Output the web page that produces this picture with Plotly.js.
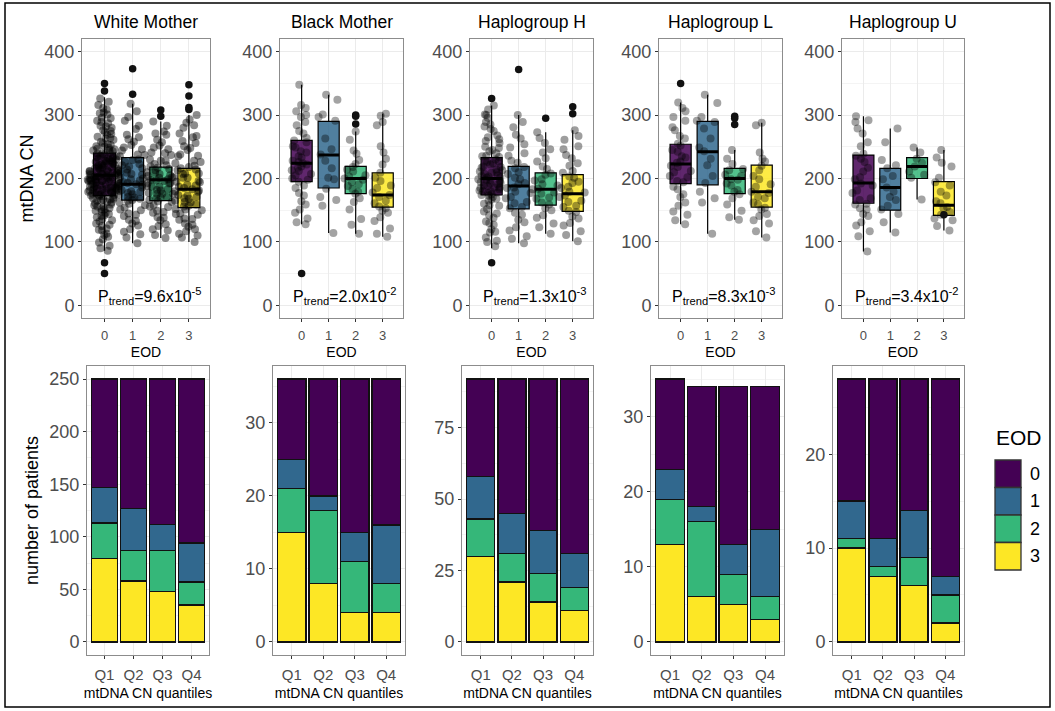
<!DOCTYPE html>
<html><head><meta charset="utf-8">
<script src="https://cdn.plot.ly/plotly-3.0.1.min.js"></script>
<style>html,body{margin:0;padding:0;background:#fff}#chart{width:1055px;height:711px}</style>
</head><body><div id="chart"></div>
<script>
// ---------------- DATA ----------------
const eodLevels = ['0', '1', '2', '3'];
const eodColors = ['#440154', '#31688E', '#35B779', '#FDE725'];
const panelTitles = ['White Mother', 'Black Mother', 'Haplogroup H', 'Haplogroup L', 'Haplogroup U'];
const pTrendMant = ['9.6', '2.0', '1.3', '8.3', '3.4'];
const pTrendExp = ['-5', '-2', '-3', '-3', '-2'];
const quantiles = ['Q1', 'Q2', 'Q3', 'Q4'];

// box statistics [panel][EOD 0..3]
const boxQ1  = [[173,166,165,154],[195,185,176,155],[174,152,158,148],[192,190,176,155],[161,150,200,142]];
const boxMed = [[205,191,198,183],[224,237,200,174],[200,188,183,176],[223,242,200,179],[193,186,219,158]];
const boxQ3  = [[240,233,218,216],[260,290,219,209],[233,219,209,206],[254,290,216,221],[237,216,233,195]];
const boxLo  = [[86,98,106,100],[128,114,113,108],[90,98,113,101],[128,113,135,107],[85,115,167,118]];
const boxHi  = [[328,318,290,300],[348,332,274,302],[315,300,273,276],[320,332,245,288],[298,279,249,245]];

// mtDNA CN points per panel / EOD group
const whitePts = [
  [326,321,316,309,304,301,296,291,287,283,280,276,273,270,266,264,261,258,256,253,250,248,247,244,243,241,239,238,236,234,233,231,230,229,227,226,224,223,222,221,219,218,216,215,214,213,211,210,209,208,207,206,205,205,204,203,201,200,199,198,198,196,195,194,193,192,190,189,188,187,186,185,183,182,181,180,179,178,176,175,174,173,172,170,168,167,165,163,161,158,156,153,151,148,146,142,139,136,132,129,125,121,118,113,108,104,99,94,90,86,212,202,197,184,177,228,191,208,
   239,235,232,231,227,224,221,220,216,213,211,209,207,204,203,201,199,198,196,194,192,191,188,186,184,182,180,178,177,174,172,169,167,165,162,159,155,152,149,144,141,134,127,119,111,251,254,263,269,275,282,289,295,303,311,245,246,217,196,186],
  [318,306,297,291,283,278,269,265,258,253,246,244,237,235,230,229,223,221,216,214,209,207,202,200,197,194,191,190,186,184,180,179,175,174,170,168,166,162,160,154,151,145,141,133,129,120,116,107,98,
   262,249,238,226,219,212,206,199,193,188,182,177,171,165,158,150,143,135,126,112],
  [290,283,274,269,261,257,249,246,240,237,230,228,223,221,217,215,210,209,205,204,201,199,198,196,193,192,188,187,183,181,177,176,171,169,166,164,158,156,149,146,138,134,125,120,111,106,
   271,252,241,228,219,213,207,202,197,193,187,182,176,170,163,155,147,139,128,118],
  [300,293,284,280,271,267,259,256,248,245,238,235,228,226,220,218,214,213,208,207,202,201,196,195,190,189,185,183,180,179,174,173,169,168,163,162,157,156,151,150,145,143,137,135,129,127,120,117,110,107,100,
   288,265,251,236,224,216,208,201,194,187,181,176,171,165,159,152,144,136,124,113]
];
const blackPts = [
  [348,316,311,306,300,297,289,284,275,271,264,260,257,251,249,243,241,235,233,228,226,224,222,219,217,213,212,207,205,200,198,195,189,185,177,173,164,159,151,146,137,131,128],
  [332,324,301,297,291,263,246,238,228,216,201,199,184,171,166,157,114],
  [274,261,244,239,229,223,218,214,211,205,203,200,198,194,191,188,183,179,176,169,163,151,136,127,113],
  [302,299,289,284,251,241,231,222,209,201,196,189,185,178,174,171,165,161,156,153,149,146,139,133,121,113,108]
];
const hapHPts = [
  [315,309,301,296,289,285,278,275,268,265,259,256,250,248,243,240,236,234,230,228,224,222,219,217,213,211,209,207,205,204,201,199,197,196,193,191,189,188,185,183,181,180,177,175,173,171,167,165,160,157,152,148,142,138,132,127,120,115,107,100,93,226,214,202,194,186,178,
   300,282,262,245,235,227,218,210,203,198,192,186,180,174,168,158,145,130,116,102],
  [300,289,281,269,263,254,249,240,236,228,225,218,216,210,207,201,199,193,191,186,185,179,177,171,169,163,161,155,153,146,143,135,131,123,118,109,105,98],
  [273,264,256,246,241,232,227,219,215,208,206,199,197,191,189,184,183,178,176,170,168,162,159,153,150,142,138,129,123,113],
  [276,267,261,251,246,237,232,224,220,212,209,203,201,195,193,187,185,179,178,173,171,165,163,157,155,149,147,140,137,130,126,117,111,101]
];
const hapLPts = [
  [320,311,306,297,291,281,276,267,263,255,252,245,242,235,233,227,225,220,218,212,210,204,202,196,194,187,183,175,171,162,157,148,143,134,128],
  [332,319,297,291,289,279,263,249,243,231,221,204,193,179,169,162,113],
  [245,231,223,215,213,206,204,199,198,192,189,182,179,175,169,159,149,139,135],
  [288,284,241,231,227,220,213,204,199,191,187,179,177,171,169,162,159,154,151,144,141,134,129,117,107]
];
const hapUPts = [
  [298,292,289,279,271,257,251,239,236,231,226,217,211,202,199,192,189,181,177,169,166,160,159,153,151,144,141,131,126,117,109,85],
  [279,257,229,221,216,204,199,186,179,171,166,157,151,144,131,115],
  [249,241,231,225,219,211,206,201,167],
  [245,233,225,219,201,194,189,179,173,164,161,155,153,147,143,137,134,125,118]
];
// outliers (solid dots) per panel / EOD group
const whiteOut = [[350,338,67,50],[373,333],[308,298],[348,330,312,309]];
const blackOut = [[50],[],[300,298,286],[]];
const hapHOut  = [[326,67],[372],[295],[313,302]];
const hapLOut  = [[350],[],[298,295,285],[]];
const hapUOut  = [[],[],[],[143]];

// number of patients per quantile, stacked segments [EOD 0..3][Q1..Q4]
const whiteCounts = [[103,123,138,156],[34,40,25,37],[34,29,39,22],[79,58,48,35]];
const blackCounts = [[11,16,21,20],[4,2,4,8],[6,10,7,4],[15,8,4,4]];
const hapHCounts  = [[34,47,53,61],[15,14,15,12],[13,10,10,8],[30,21,14,11]];
const hapLCounts  = [[12,16,21,19],[4,2,4,9],[6,10,4,3],[13,6,5,3]];
const hapUCounts  = [[13,17,14,21],[4,3,5,2],[1,1,3,3],[10,7,6,2]];

// --------------- LAYOUT CONFIG ---------------
const W = 1055, H = 711;
const FONT = 'Liberation Sans, Arial, Helvetica, sans-serif';
const allPts = [whitePts, blackPts, hapHPts, hapLPts, hapUPts];
const allOut = [whiteOut, blackOut, hapHOut, hapLOut, hapUOut];
const allCounts = [whiteCounts, blackCounts, hapHCounts, hapLCounts, hapUCounts];
const topX = [[82,210],[280,403],[470,593],[659,782],[842,964]];
const botX = [[87,209],[273,405],[462,593],[651,784],[833,964]];
const topY = [39,318], botY = [366,655];
const barRanges = [[-12.5,262.5],[-1.8,37.8],[-4.6,96.6],[-1.75,36.75],[-1.4,29.4]];
const barDtick = [50,10,25,10,10];
const ptSpread = [1.2, 0.85, 1.0, 0.85, 0.85];
const ptAlpha = [0.45, 0.36, 0.38, 0.36, 0.36];

function rgba(hex, a){
  const n = parseInt(hex.slice(1),16);
  return 'rgba(' + (n>>16) + ',' + ((n>>8)&255) + ',' + (n&255) + ',' + a + ')';
}
const fx = px => px / W;
const fy = py => 1 - py / H;

const traces = [];
const layout = {
  width: W, height: H,
  margin: {l:0, r:0, t:0, b:0},
  paper_bgcolor: '#fff', plot_bgcolor: '#fff',
  showlegend: false,
  barmode: 'stack', bargap: 0.1,
  boxmode: 'overlay',
  font: {family: FONT, color: '#000'},
  annotations: [], shapes: []
};

const axisCommon = {
  showline: true, mirror: true, linecolor: '#8c8c8c', linewidth: 1,
  ticks: 'outside', ticklen: 3, tickcolor: '#333', tickwidth: 1,
  showgrid: true, gridcolor: '#ebebeb', gridwidth: 1, zeroline: false, fixedrange: true
};

for (let p = 0; p < 5; p++) {
  const tn = p + 1, bn = p + 6;
  const txa = tn === 1 ? 'x' : 'x' + tn, tya = tn === 1 ? 'y' : 'y' + tn;
  const bxa = 'x' + bn, bya = 'y' + bn;

  // ---- top row: boxplots ----
  for (let k = 0; k < 4; k++) {
    const lvl = eodLevels[k];
    traces.push({
      type: 'box', xaxis: txa, yaxis: tya, x: [lvl],
      q1: [boxQ1[p][k]], median: [boxMed[p][k]], q3: [boxQ3[p][k]],
      lowerfence: [boxLo[p][k]], upperfence: [boxHi[p][k]],
      fillcolor: rgba(eodColors[k], 0.85), line: {color: '#000', width: 1.2},
      whiskerwidth: 0, width: 0.78, hoverinfo: 'skip'
    });
    const pts = allPts[p][k];
    traces.push({
      type: 'box', xaxis: txa, yaxis: tya, x: pts.map(() => lvl), y: pts,
      boxpoints: 'all', jitter: 1, pointpos: 0,
      fillcolor: 'rgba(0,0,0,0)', line: {color: 'rgba(0,0,0,0)', width: 0},
      marker: {color: 'rgba(0,0,0,' + ptAlpha[p] + ')', size: 8}, width: ptSpread[p], whiskerwidth: 0, hoverinfo: 'y'
    });
    traces.push({
      type: 'box', xaxis: txa, yaxis: tya, x: [lvl],
      q1: [boxMed[p][k]], median: [boxMed[p][k]], q3: [boxMed[p][k]],
      lowerfence: [boxMed[p][k]], upperfence: [boxMed[p][k]],
      fillcolor: 'rgba(0,0,0,0)', line: {color: '#000', width: 3},
      whiskerwidth: 0, width: 0.78, hoverinfo: 'skip'
    });
    const outs = allOut[p][k];
    if (outs.length) traces.push({
      type: 'scatter', mode: 'markers', xaxis: txa, yaxis: tya,
      x: outs.map(() => lvl), y: outs,
      marker: {color: '#111', size: 7.5}, hoverinfo: 'y'
    });
  }

  // ---- bottom row: stacked bars (EOD 3 at bottom) ----
  for (let k = 3; k >= 0; k--) {
    traces.push({
      type: 'bar', xaxis: bxa, yaxis: bya, x: quantiles, y: allCounts[p][k],
      name: eodLevels[k], marker: {color: eodColors[k], line: {color: '#111', width: 1.3}},
      hoverinfo: 'y'
    });
  }

  // axes
  const tx = Object.assign({}, axisCommon, {
    domain: [fx(topX[p][0]), fx(topX[p][1])], anchor: tya,
    type: 'category', categoryorder: 'array', categoryarray: eodLevels, range: [-0.8, 3.75],
    tickfont: {size: 13, color: '#4d4d4d'}, ticklabelstandoff: 2,
    title: {text: 'EOD', font: {size: 14, color: '#000'}, standoff: 5}
  });
  const ty = Object.assign({}, axisCommon, {
    domain: [fy(topY[1]), fy(topY[0])], anchor: txa,
    range: [-20, 420], tickvals: [0, 100, 200, 300, 400],
    tickfont: {size: 18, color: '#4d4d4d'},
    minor: {tickvals: [50, 150, 250, 350], showgrid: true, gridcolor: '#f4f4f4', ticks: ''}
  });
  if (p === 0) ty.title = {text: 'mtDNA CN', font: {size: 18, color: '#000'}, standoff: 6};
  layout['xaxis' + (tn === 1 ? '' : tn)] = tx;
  layout['yaxis' + (tn === 1 ? '' : tn)] = ty;

  const bx = Object.assign({}, axisCommon, {
    domain: [fx(botX[p][0]), fx(botX[p][1])], anchor: bya,
    type: 'category', categoryorder: 'array', categoryarray: quantiles, range: [-0.6, 3.6],
    tickfont: {size: 15, color: '#4d4d4d'}, ticklabelstandoff: 3,
    title: {text: 'mtDNA CN quantiles', font: {size: 14, color: '#000'}, standoff: 6}
  });
  const by = Object.assign({}, axisCommon, {
    domain: [fy(botY[1]), fy(botY[0])], anchor: bxa,
    range: barRanges[p], dtick: barDtick[p], tick0: 0,
    tickfont: {size: 18, color: '#4d4d4d'},
    minor: {dtick: barDtick[p] / 2, showgrid: true, gridcolor: '#f4f4f4', ticks: ''}
  });
  if (p === 0) by.title = {text: 'number of patients', font: {size: 18, color: '#000'}, standoff: 6};
  layout['xaxis' + bn] = bx;
  layout['yaxis' + bn] = by;

  // panel title
  layout.annotations.push({
    xref: 'paper', yref: 'paper', x: fx((topX[p][0] + topX[p][1]) / 2), y: fy(22),
    text: panelTitles[p], showarrow: false, xanchor: 'center', yanchor: 'middle',
    font: {size: 17.5, color: '#000', family: FONT}
  });
  // P trend annotation
  layout.annotations.push({
    xref: txa + ' domain', yref: tya, x: 0.53, y: 14,
    text: 'P<sub>trend</sub>=' + pTrendMant[p] + 'x10<sup>' + pTrendExp[p] + '</sup>',
    showarrow: false, xanchor: 'center', yanchor: 'middle',
    font: {size: 16, color: '#000', family: FONT}
  });
}

// legend (drawn manually)
layout.annotations.push({
  xref: 'paper', yref: 'paper', x: fx(994), y: fy(437), text: 'EOD', showarrow: false,
  xanchor: 'left', yanchor: 'middle', font: {size: 21, color: '#000', family: FONT}
});
const legTop = 460, legH = 27.5;
for (let k = 0; k < 4; k++) {
  layout.shapes.push({
    type: 'rect', xref: 'paper', yref: 'paper',
    x0: fx(995), x1: fx(1021), y0: fy(legTop + k * legH), y1: fy(legTop + (k + 1) * legH),
    fillcolor: eodColors[k], line: {color: '#333', width: 1.3}
  });
  layout.annotations.push({
    xref: 'paper', yref: 'paper', x: fx(1028), y: fy(legTop + (k + 0.5) * legH), text: eodLevels[k],
    showarrow: false, xanchor: 'left', yanchor: 'middle', font: {size: 18, color: '#000', family: FONT}
  });
}
// outer frame
layout.shapes.push({
  type: 'rect', xref: 'paper', yref: 'paper', x0: fx(5), x1: fx(1050), y0: fy(707), y1: fy(3),
  line: {color: '#000', width: 1.5}, fillcolor: 'rgba(0,0,0,0)'
});

Plotly.newPlot('chart', traces, layout, {displayModeBar: false, staticPlot: true});
</script></body></html>
